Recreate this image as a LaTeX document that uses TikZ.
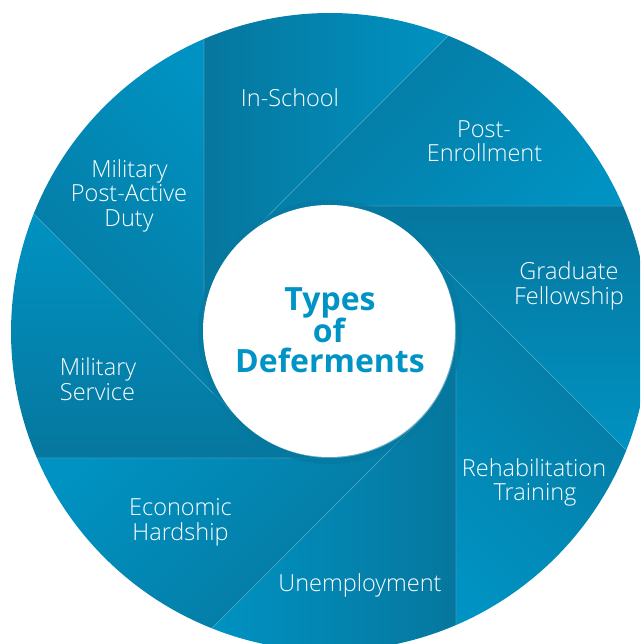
\documentclass[tikz,border=0pt]{standalone}
\usepackage{fontspec}
\IfFontExistsTF{Open Sans Light}{\setmainfont{Open Sans Light}}{\setmainfont{Open Sans}}
\newfontfamily\ctrfont{Open Sans}
\definecolor{bdark}{RGB}{6,119,158}
\definecolor{blight}{RGB}{0,146,194}
\definecolor{ctext}{RGB}{0,148,198}
\begin{document}
\begin{tikzpicture}[x=1pt,y=1pt,
  lab/.style={text=white, font=\fontsize{23.5}{24.5}\selectfont, inner sep=0pt, anchor=base},
  ctr/.style={text=ctext, font=\ctrfont\bfseries\fontsize{32}{32}\selectfont, inner sep=0pt, anchor=base},
  sep/.style={white, opacity=0.22, line width=0.6pt}]
\useasboundingbox (0,0) rectangle (640,644);
\clip (0,0) rectangle (640,644);
\def\r{126}\def\R{319}\def\off{66.73}
\begin{scope}[shift={(330,312)}]
\foreach \k in {0,...,7}{
  \pgfmathsetmacro\a{180-45*\k}
  \pgfmathsetmacro\b{135-45*\k}
  \pgfmathsetmacro\sa{-90-45*\k}
  \shade[top color=blight, bottom color=bdark, shading angle=\sa]
    (\a:\r) -- ({\a-\off}:\R) arc[start angle={\a-\off}, end angle={\b-\off}, radius=\R]
    -- (\b:\r) arc[start angle=\b, end angle=\a, radius=\r] -- cycle;
}
\foreach \k in {0,...,7}{
  \pgfmathsetmacro\a{180-45*\k}
  \draw[sep] (\a:\r) -- ({\a-\off}:\R);
}
\fill[bdark, opacity=0.6] (0,0) circle (\r+6);
\fill[white] (-1,1) circle (\r);
\end{scope}
% labels
\node[lab] (ins) at (290,537) {In-School};
\node[lab] (pe1) at (484,506.5) {Post-};
\node[lab] (pe2) at (484.5,482) {Enrollment};
\node[lab] (gf1) at (569,364) {Graduate};
\node[lab] (gf2) at (569,339) {Fellowship};
\node[lab] (rt1) at (534,167) {Rehabilitation};
\node[lab] (rt2) at (535,143) {Training};
\node[lab] (un) at (360,52) {Unemployment};
\node[lab] (eh1) at (180.5,128) {Economic};
\node[lab] (eh2) at (180.5,103) {Hardship};
\node[lab] (ms1) at (98,268.5) {Military};
\node[lab] (ms2) at (97.5,243) {Service};
\node[lab] (mp1) at (129.5,466) {Military};
\node[lab] (mp2) at (129,442) {Post-Active};
\node[lab] (mp3) at (129,417.5) {Duty};
% centre
\node[ctr] (t1) at (330,333) {Types};
\node[ctr] (t2) at (329,301) {of};
\node[ctr] (t3) at (330,271) {Deferments};
\end{tikzpicture}
\end{document}
